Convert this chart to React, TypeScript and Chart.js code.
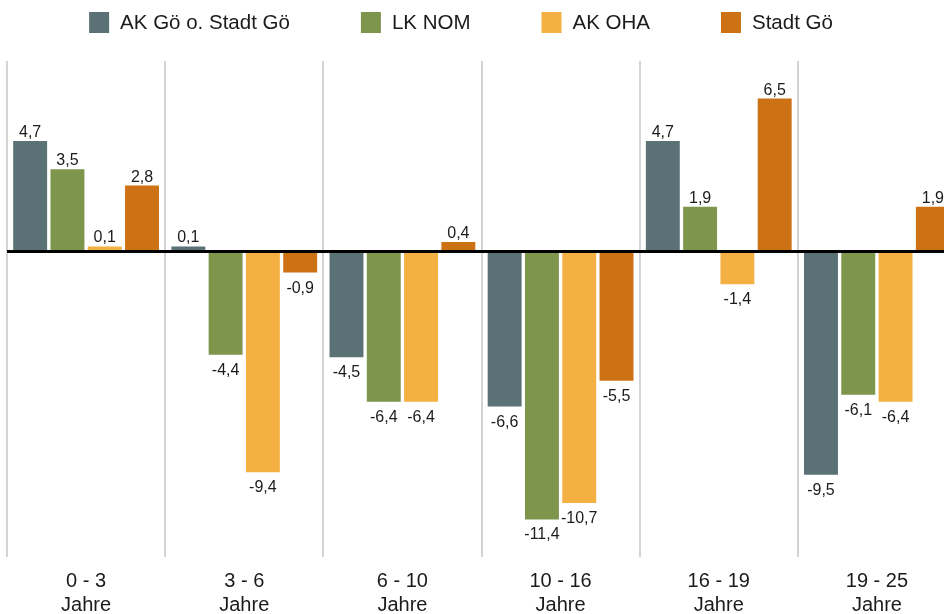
import React, { useEffect, useRef } from "react";
import { Chart, registerables } from "chart.js";

Chart.register(...registerables);

// Age brackets (two-line axis labels)
const ageGroups: string[][] = [
  ["0 - 3", "Jahre"],
  ["3 - 6", "Jahre"],
  ["6 - 10", "Jahre"],
  ["10 - 16", "Jahre"],
  ["16 - 19", "Jahre"],
  ["19 - 25", "Jahre"],
];

const seriesNames = ["AK Gö o. Stadt Gö", "LK NOM", "AK OHA", "Stadt Gö"];

// Change per age bracket, in percent
const akGoeOhneStadt = [4.7, 0.1, -4.5, -6.6, 4.7, -9.5];
const lkNom = [3.5, -4.4, -6.4, -11.4, 1.9, -6.1];
const akOha = [0.1, -9.4, -6.4, -10.7, -1.4, -6.4];
const stadtGoe = [2.8, -0.9, 0.4, -5.5, 6.5, 1.9];

const seriesColors = ["#5a7275", "#7e954c", "#f4b043", "#cd7115"];

const FONT = "'Liberation Sans', Arial, Helvetica, sans-serif";
const TEXT = "#1b1b1b";

const fmt = (v: number) => v.toFixed(1).replace(".", ",");

// Legend row at the top of the canvas
const topLegend = {
  id: "topLegend",
  afterDraw(chart: any) {
    const ctx = chart.ctx as CanvasRenderingContext2D;
    ctx.save();
    ctx.font = `20.5px ${FONT}`;
    const box = 20;
    const boxGap = 11;
    const itemGap = 71;
    const items = chart.data.datasets.map((ds: any) => ({
      label: ds.label as string,
      color: ds.backgroundColor as string,
      w: box + boxGap + ctx.measureText(ds.label).width,
    }));
    const total =
      items.reduce((s: number, it: any) => s + it.w, 0) + itemGap * (items.length - 1);
    let x = 461 - total / 2;
    for (const it of items) {
      ctx.fillStyle = it.color;
      ctx.fillRect(x, 12, box, 21);
      ctx.fillStyle = TEXT;
      ctx.textBaseline = "middle";
      ctx.textAlign = "left";
      ctx.fillText(it.label, x + box + boxGap, 23);
      x += it.w + itemGap;
    }
    ctx.restore();
  },
};

// Value labels above positive / below negative bars
const valueLabels = {
  id: "valueLabels",
  afterDatasetsDraw(chart: any) {
    const ctx = chart.ctx as CanvasRenderingContext2D;
    ctx.save();
    ctx.font = `16px ${FONT}`;
    ctx.fillStyle = TEXT;
    ctx.textAlign = "center";
    ctx.textBaseline = "alphabetic";
    chart.data.datasets.forEach((ds: any, di: number) => {
      const meta = chart.getDatasetMeta(di);
      meta.data.forEach((bar: any, i: number) => {
        const v = ds.data[i] as number;
        const y = v >= 0 ? bar.y - 4 : bar.y + 20;
        ctx.fillText(fmt(v), bar.x, y);
      });
    });
    ctx.restore();
  },
};

export default function App() {
  const canvasRef = useRef<HTMLCanvasElement | null>(null);

  useEffect(() => {
    if (!canvasRef.current) return;
    const values = [akGoeOhneStadt, lkNom, akOha, stadtGoe];
    const chart = new Chart(canvasRef.current, {
      type: "bar",
      data: {
        labels: ageGroups,
        datasets: seriesNames.map((name, i) => ({
          label: name,
          data: values[i],
          backgroundColor: seriesColors[i],
          borderWidth: 0,
          barPercentage: 0.91,
          categoryPercentage: 0.943,
          minBarLength: 5,
        })),
      },
      options: {
        responsive: false,
        animation: false,
        devicePixelRatio: 1,
        layout: { padding: { top: 61, left: 7, right: 4, bottom: 6 } },
        plugins: {
          legend: { display: false },
          tooltip: { enabled: false },
        },
        scales: {
          x: {
            grid: {
              offset: true,
              color: "#d4d4d4",
              lineWidth: 2,
              drawTicks: false,
            },
            border: { display: false },
            ticks: {
              color: TEXT,
              font: { family: FONT, size: 20, lineHeight: 1.2 },
              padding: 12,
              maxRotation: 0,
              autoSkip: false,
            },
          },
          y: {
            min: -13,
            max: 8.1,
            z: 1,
            border: { display: false },
            ticks: { display: false, stepSize: 1 },
            grid: {
              drawTicks: false,
              color: (c: any) => (c.tick && c.tick.value === 0 ? "#000000" : "rgba(0,0,0,0)"),
              lineWidth: (c: any) => (c.tick && c.tick.value === 0 ? 3 : 0),
            },
          },
        },
      },
      plugins: [valueLabels, topLegend],
    });
    return () => chart.destroy();
  }, []);

  return (
    <div
      style={{
        position: "fixed",
        left: 0,
        top: 0,
        width: 944,
        height: 614,
        overflow: "hidden",
        background: "#ffffff",
      }}
    >
      <canvas
        ref={canvasRef}
        width={960}
        height={635}
        style={{ position: "absolute", left: 0, top: 0, display: "block" }}
      />
    </div>
  );
}
